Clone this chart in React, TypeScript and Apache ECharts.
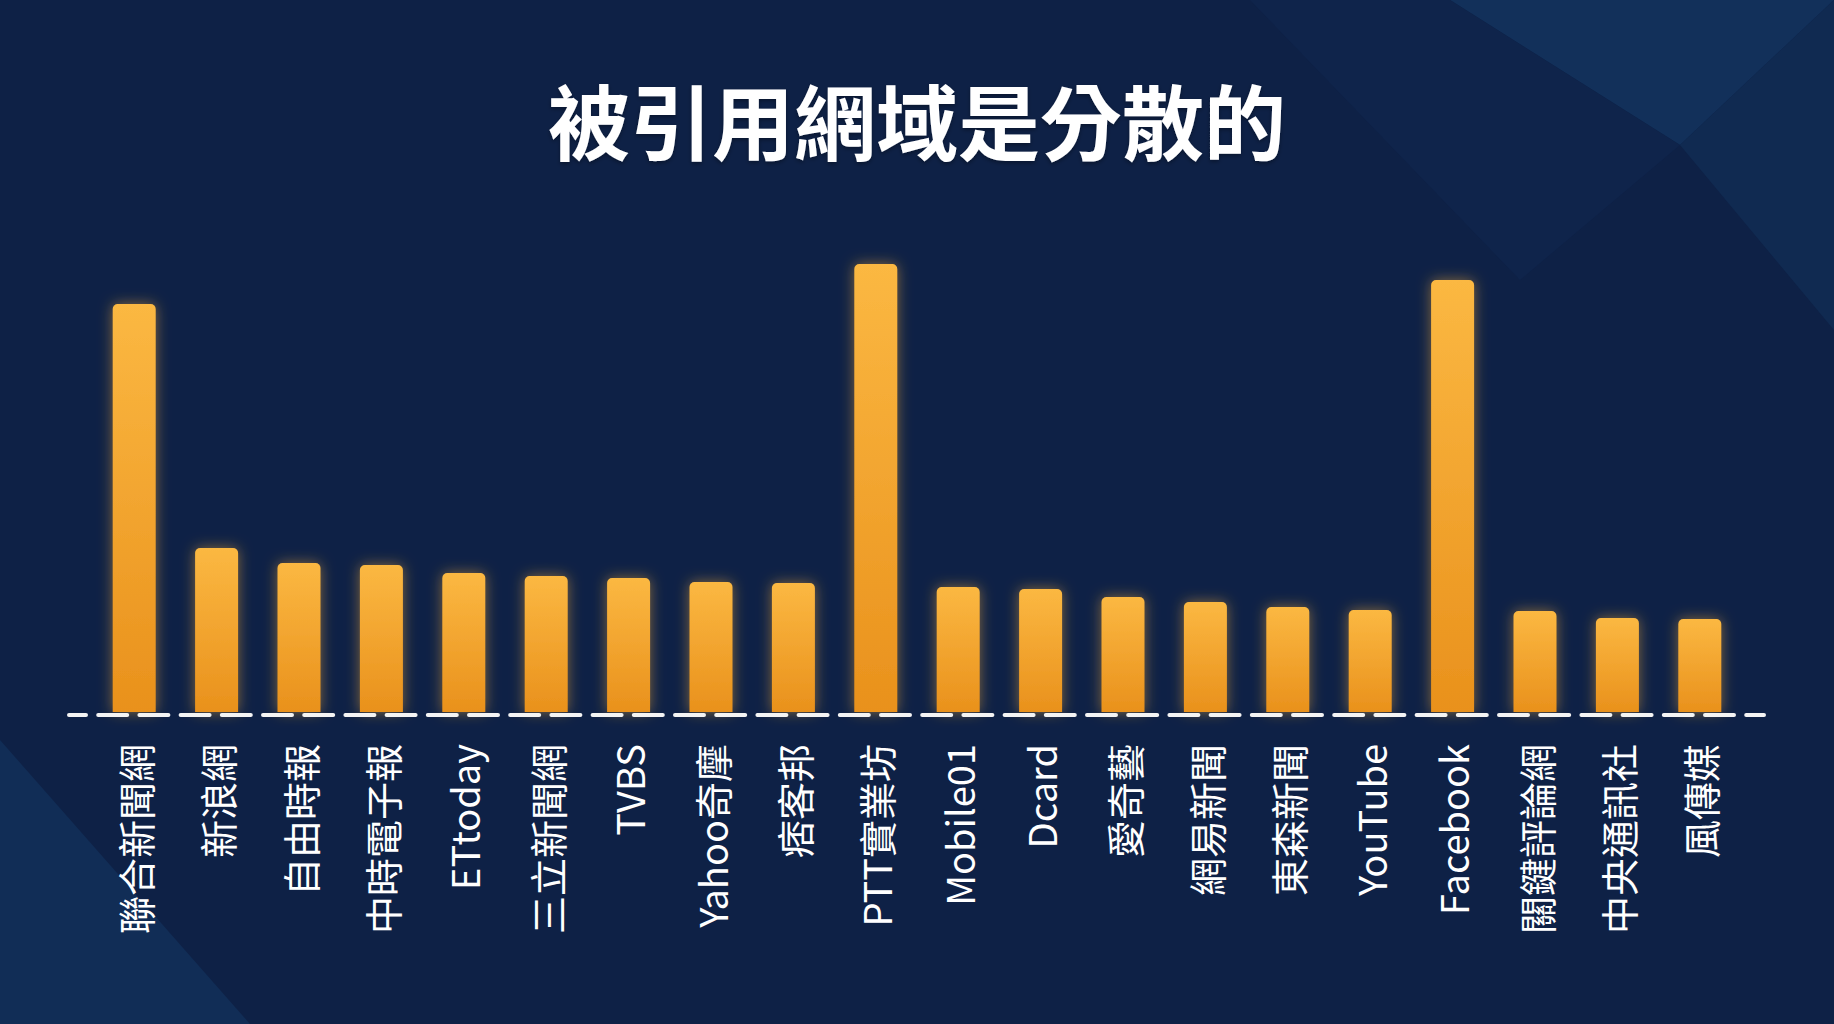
import { useEffect, useRef } from 'react';
import * as echarts from 'echarts';

// ─── Data ─────────────────────────────────────────────────────────────────────

const TITLE = '被引用網域是分散的';

const domains = [
  '聯合新聞網', '新浪網', '自由時報', '中時電子報', 'ETtoday',
  '三立新聞網', 'TVBS', 'Yahoo奇摩', '痞客邦', 'PTT實業坊',
  'Mobile01', 'Dcard', '愛奇藝', '網易新聞', '東森新聞',
  'YouTube', 'Facebook', '關鍵評論網', '中央通訊社', '風傳媒',
];

// relative citation counts
const citations = [
  408, 164, 149, 147, 139,
  136, 134, 130, 129, 448,
  125, 123, 115, 110, 105,
  102, 432, 101, 94, 93,
];

const FONT = '"Noto Sans CJK TC", "Noto Sans", sans-serif';

// ─── Option ───────────────────────────────────────────────────────────────────

function buildOption(): echarts.EChartsOption {
  return {
    animation: false,
    backgroundColor: '#0e2146',
    title: {
      text: TITLE,
      left: 'center',
      top: 72,
      textStyle: {
        color: '#ffffff',
        fontSize: 82,
        fontWeight: 'bold',
        fontFamily: FONT,
        textShadowColor: 'rgba(0,0,0,0.35)',
        textShadowBlur: 4,
        textShadowOffsetY: 2,
      },
    },
    graphic: [
      {
        type: 'polygon',
        z: -10,
        shape: { points: [[1450, 0], [1834, 0], [1680, 145]] },
        style: { fill: '#12305a' },
        silent: true,
      },
      {
        type: 'polygon',
        z: -10,
        shape: { points: [[1834, 0], [1680, 145], [1834, 330]] },
        style: { fill: '#102a51' },
        silent: true,
      },
      {
        type: 'polygon',
        z: -10,
        shape: { points: [[1250, 0], [1450, 0], [1680, 145], [1520, 280]] },
        style: { fill: '#0f244b' },
        silent: true,
      },
      {
        type: 'polygon',
        z: -10,
        shape: { points: [[0, 740], [250, 1024], [0, 1024]] },
        style: { fill: '#112d56' },
        silent: true,
      },
    ],
    grid: [
      { left: 93, right: 93, top: 212, bottom: 312 },
      { left: 69, right: 70, top: 212, bottom: 309.5 },
    ],
    xAxis: [
      {
        type: 'category',
        gridIndex: 0,
        data: domains,
        axisLine: { show: false },
        axisTick: { show: false },
        axisLabel: {
          rotate: 90,
          margin: 32,
          color: '#ffffff',
          fontSize: 38,
          fontFamily: FONT,
          interval: 0,
        },
      },
      {
        type: 'value',
        gridIndex: 1,
        min: 0,
        max: 1,
        z: 20,
        axisLine: {
          show: true,
          lineStyle: {
            color: '#f4f4f4',
            width: 4,
            type: [29, 12.2],
            dashOffset: 12,
          },
        },
        axisTick: { show: false },
        axisLabel: { show: false },
        splitLine: { show: false },
      },
    ],
    yAxis: [
      { type: 'value', gridIndex: 0, min: 0, max: 500, show: false },
      { type: 'value', gridIndex: 1, min: 0, max: 1, show: false },
    ],
    series: [
      {
        type: 'bar',
        xAxisIndex: 0,
        yAxisIndex: 0,
        z: 1,
        data: citations,
        barWidth: 43,
        itemStyle: {
          borderRadius: [5, 5, 0, 0],
          color: new echarts.graphic.LinearGradient(0, 0, 0, 1, [
            { offset: 0, color: '#fbb842' },
            { offset: 1, color: '#e9911c' },
          ]),
          shadowColor: 'rgba(255, 176, 50, 0.5)',
          shadowBlur: 14,
        },
      },
    ],
  };
}

// ─── Component ────────────────────────────────────────────────────────────────

export default function App() {
  const ref = useRef<HTMLDivElement>(null);

  useEffect(() => {
    document.body.style.margin = '0';
    if (!ref.current) return;
    const chart = echarts.init(ref.current, null, { renderer: 'svg' });
    chart.setOption(buildOption());
    return () => chart.dispose();
  }, []);

  return <div ref={ref} style={{ width: 1834, height: 1024 }} />;
}
